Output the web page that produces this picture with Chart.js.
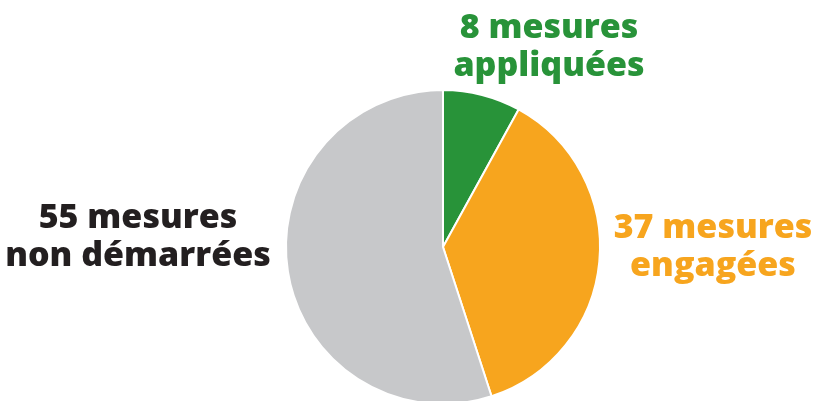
<!DOCTYPE html>
<html>
<head>
<meta charset="utf-8">
<script src="https://cdn.jsdelivr.net/npm/chart.js@4"></script>
<style>
  html, body { margin: 0; padding: 0; background: #fff; width: 819px; height: 401px; overflow: hidden; }
  #wrap { position: relative; width: 819px; height: 500px; }
</style>
</head>
<body>
<div id="wrap"><canvas id="c"></canvas></div>
<script>
const categories = ["appliquées", "engagées", "non démarrées"];
const values = [8, 37, 55];
const colors = ["#289339", "#F7A51E", "#C7C8CA"];
const textColors = ["#289339", "#F7A51E", "#231F20"];

const labelPlugin = {
  id: 'sideLabels',
  afterDraw(chart, args, opts) {
    const ctx = chart.ctx;
    ctx.save();
    ctx.font = opts.font;
    ctx.textAlign = 'center';
    ctx.textBaseline = 'alphabetic';
    opts.positions.forEach((p, i) => {
      ctx.fillStyle = textColors[i];
      ctx.fillText(values[i] + ' mesures', p.x, p.y);
      ctx.fillText(categories[i], p.x, p.y + opts.lineHeight);
    });
    ctx.restore();
  }
};

new Chart(document.getElementById('c'), {
  type: 'pie',
  data: {
    labels: categories,
    datasets: [{
      data: values,
      backgroundColor: colors,
      borderColor: '#ffffff',
      borderWidth: 2,
      hoverOffset: 0,
      offset: 0
    }]
  },
  options: {
    responsive: true,
    maintainAspectRatio: false,
    animation: false,
    events: [],
    layout: { padding: { left: 285, right: 218, top: 89, bottom: 95 } },
    plugins: {
      legend: { display: false },
      tooltip: { enabled: false },
      sideLabels: {
        font: '800 34px "Open Sans"',
        lineHeight: 38,
        positions: [ { x: 549, y: 38 }, { x: 713, y: 238 }, { x: 138, y: 228 } ]
      }
    }
  },
  plugins: [labelPlugin]
});
</script>
</body>
</html>
